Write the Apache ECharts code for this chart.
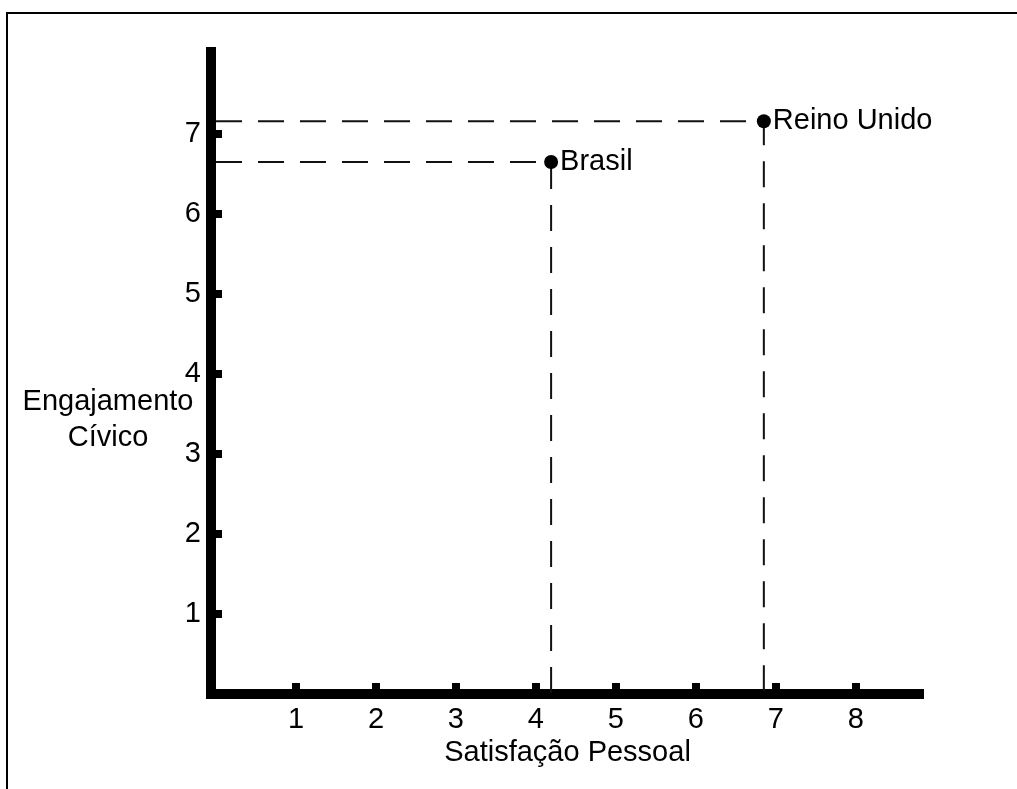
<!DOCTYPE html>
<html>
<head>
<meta charset="utf-8">
<script src="https://cdn.jsdelivr.net/npm/echarts@6/dist/echarts.min.js"></script>
<style>
html,body{margin:0;padding:0;background:#fff;}
#chart{width:1017px;height:789px;}
</style>
</head>
<body>
<div id="chart"></div>
<script>
// Data
var countries = ['Brasil', 'Reino Unido'];
var satisfacao = [4.19, 6.85];     // x values (Satisfação Pessoal)
var engajamento = [6.65, 7.16];    // y values (Engajamento Cívico)
var xTickLabels = [1, 2, 3, 4, 5, 6, 7, 8];
var yTickLabels = [1, 2, 3, 4, 5, 6, 7];
var xAxisTitle = 'Satisfação Pessoal';
var yAxisTitle = ['Engajamento', 'Cívico'];

var FONT = 'Liberation Sans, Arial, sans-serif';
var FS = 29;
var chart = echarts.init(document.getElementById('chart'));

var points = countries.map(function (c, i) {
  return { name: c, value: [satisfacao[i], engajamento[i]] };
});

var guideSeries = countries.map(function (c, i) {
  return {
    type: 'line',
    silent: true,
    symbol: 'none',
    z: 1,
    lineStyle: { color: '#111', width: 2, type: [26, 16], opacity: 1 },
    data: [[0, engajamento[i]], [satisfacao[i], engajamento[i]], [satisfacao[i], 0]]
  };
});

chart.setOption({
  animation: false,
  backgroundColor: '#fff',
  grid: { left: 216, right: 98, top: 52, bottom: 95, containLabel: false },
  xAxis: {
    type: 'value', min: 0, max: 8.79,
    name: xAxisTitle, nameLocation: 'middle', nameGap: 33,
    nameTextStyle: { fontFamily: FONT, fontSize: FS, color: '#000' },
    splitLine: { show: false },
    axisLine: { show: true, onZero: false, lineStyle: { color: '#000', width: 10, cap: 'square' } },
    axisTick: { show: true, inside: true, length: 11, customValues: xTickLabels,
      lineStyle: { color: '#000', width: 8 } },
    axisLabel: { show: true, margin: 11, customValues: xTickLabels,
      fontFamily: FONT, fontSize: FS, color: '#000' }
  },
  yAxis: {
    type: 'value', min: 0, max: 8.025, offset: 5,
    splitLine: { show: false },
    axisLine: { show: true, onZero: false, lineStyle: { color: '#000', width: 10, cap: 'square' } },
    axisTick: { show: true, inside: true, length: 11, customValues: yTickLabels,
      lineStyle: { color: '#000', width: 8 } },
    axisLabel: { show: true, margin: 10, customValues: yTickLabels,
      fontFamily: FONT, fontSize: FS, color: '#000' }
  },
  graphic: [
    { type: 'rect', silent: true, shape: { x: 7, y: 13, width: 1200, height: 1000 },
      style: { fill: 'none', stroke: '#000', lineWidth: 2 } },
    { type: 'text', x: 108, y: 384, silent: true,
      style: { text: yAxisTitle.join('\n'), fontFamily: FONT, fontSize: FS, fill: '#000',
        lineHeight: 36, align: 'center', textAlign: 'center' } }
  ],
  series: guideSeries.concat([{
    type: 'scatter',
    symbol: 'circle',
    symbolSize: 14,
    z: 5,
    itemStyle: { color: '#000', opacity: 1 },
    label: { show: true, position: 'right', distance: 2, formatter: '{b}',
      fontFamily: FONT, fontSize: FS, color: '#000', opacity: 1 },
    data: points
  }])
});
</script>
</body>
</html>
